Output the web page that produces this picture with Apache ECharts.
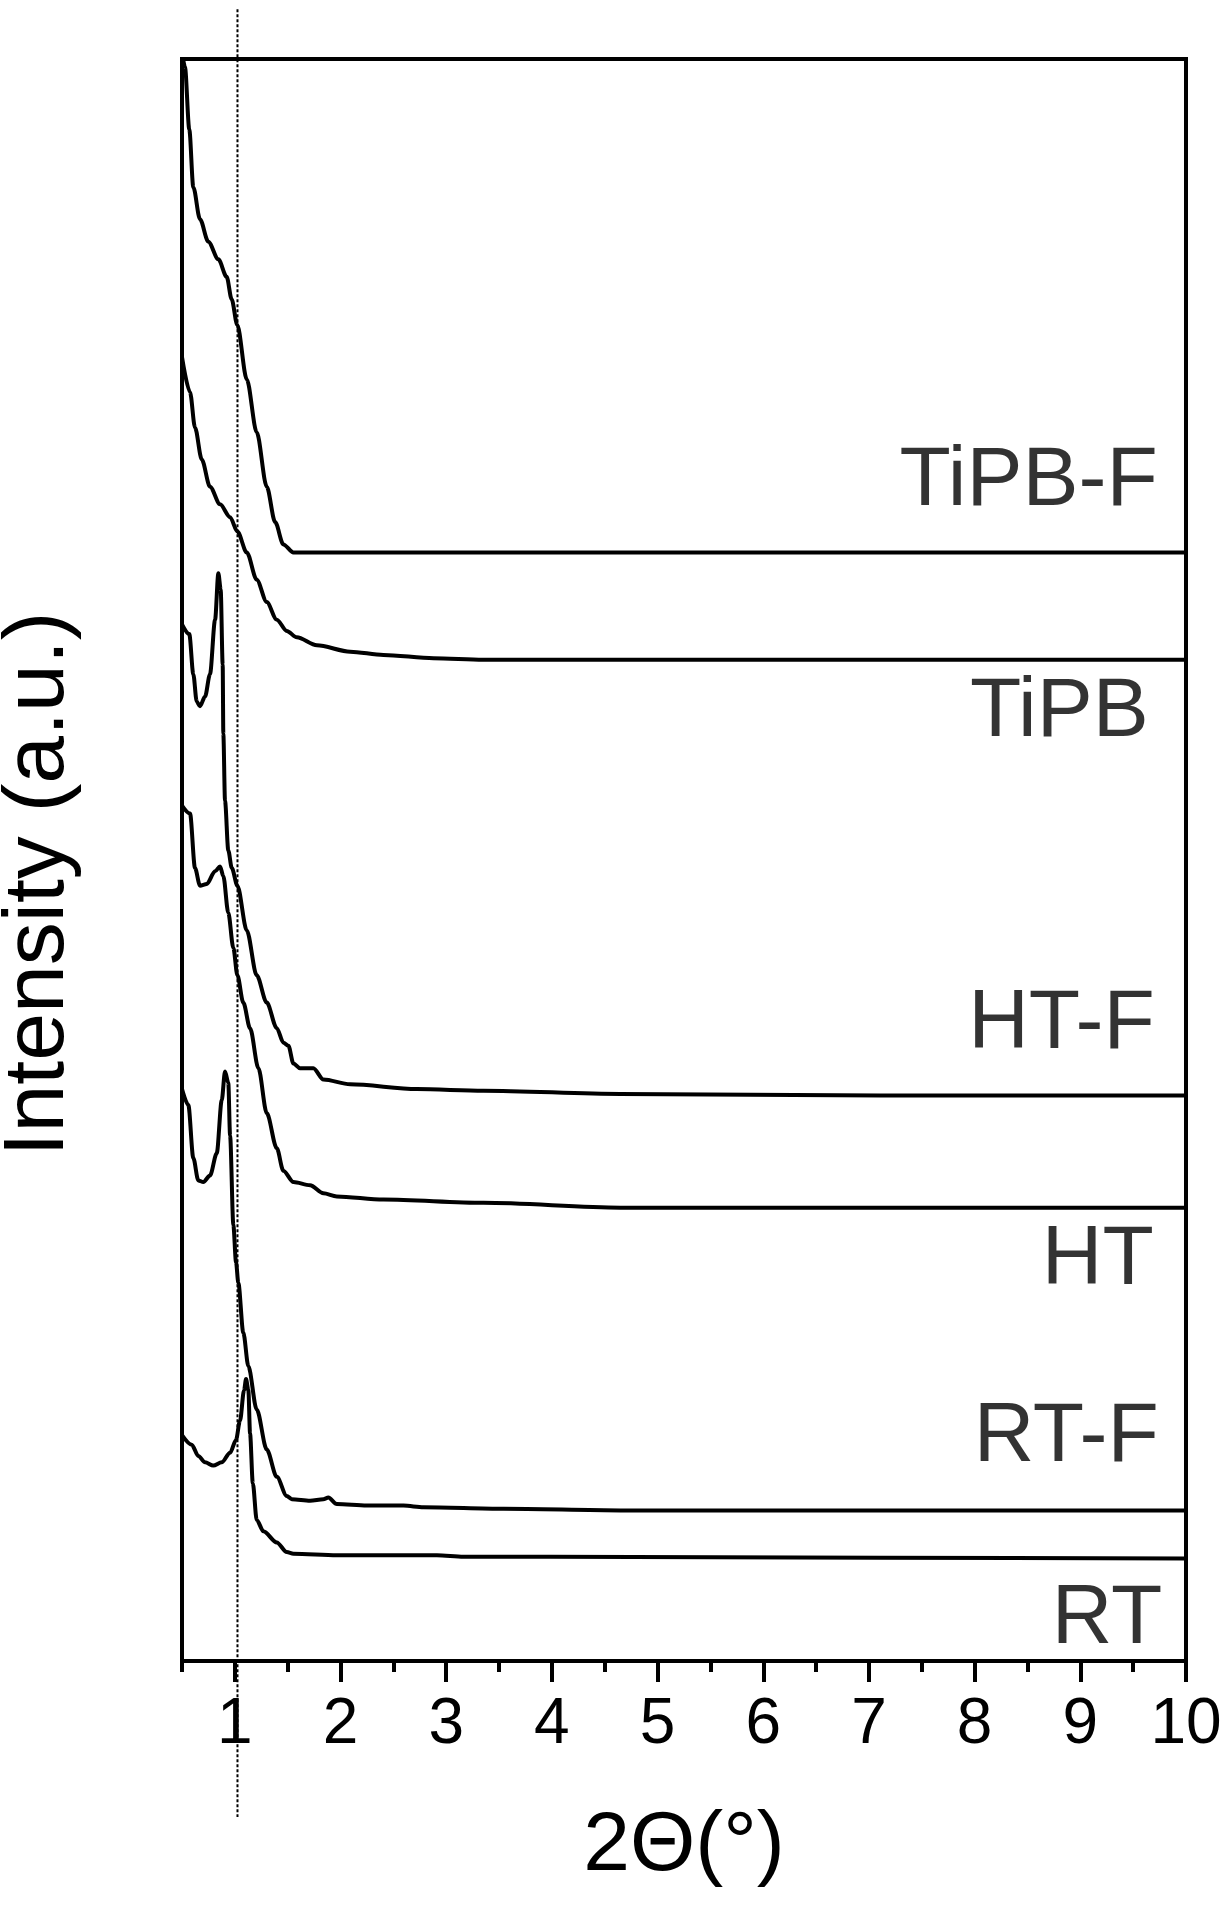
<!DOCTYPE html>
<html>
<head>
<meta charset="utf-8">
<script src="https://cdn.jsdelivr.net/npm/echarts@6/dist/echarts.min.js"></script>
<style>
html,body{margin:0;padding:0;background:#fff;}
#chart{width:1232px;height:1906px;}
</style>
</head>
<body>
<div id="chart"></div>
<script>
// ---- data (x = 2Θ in degrees, y = offset intensity, arbitrary units 0..100) ----
const tipbfX = [0.5, 0.528, 0.569, 0.607, 0.670, 0.749, 0.844, 0.923, 0.970, 1.023, 1.113, 1.207, 1.302, 1.381, 1.459, 1.554, 2.5, 4, 6, 8, 10];
const tipbfY = [100.5, 99.5, 95.6, 92.0, 90.0, 88.6, 87.5, 86.4, 85.0, 83.4, 80.0, 76.7, 73.3, 71.1, 69.7, 69.2, 69.2, 69.2, 69.2, 69.2, 69.2];

const tipbX = [0.5, 0.576, 0.623, 0.687, 0.765, 0.860, 0.955, 1.024, 1.113, 1.207, 1.302, 1.397, 1.491, 1.586, 1.776, 2.091, 2.406, 2.880, 3.350, 3.985, 6, 8, 10];
const tipbY = [81.4, 79.2, 77.0, 75.0, 73.3, 72.2, 71.4, 70.5, 69.2, 67.5, 66.1, 65.0, 64.3, 63.9, 63.4, 63.0, 62.8, 62.6, 62.5, 62.5, 62.5, 62.5, 62.5];

const htfX = [0.5, 0.569, 0.607, 0.639, 0.670, 0.718, 0.765, 0.813, 0.844, 0.866, 0.885, 0.891, 0.907, 0.938, 0.971, 1.024, 1.113, 1.207, 1.302, 1.397, 1.459, 1.507, 1.554, 1.617, 1.743, 1.838, 2.091, 2.722, 3.353, 4.648, 7.110, 10];
const htfY = [64.7, 64.1, 61.6, 59.9, 59.6, 60.2, 61.6, 65.0, 67.9, 66.9, 62.2, 57.9, 53.7, 50.6, 49.5, 48.4, 45.6, 42.8, 41.1, 39.5, 38.6, 38.4, 37.3, 37.0, 37.0, 36.3, 36.0, 35.7, 35.6, 35.4, 35.3, 35.3];

const htX = [0.5, 0.576, 0.623, 0.670, 0.734, 0.813, 0.860, 0.891, 0.938, 0.986, 1.024, 1.080, 1.144, 1.223, 1.302, 1.397, 1.459, 1.554, 1.712, 1.838, 1.965, 2.406, 3.353, 4.648, 7.110, 10];
const htY = [53.4, 52.9, 49.5, 48.4, 48.5, 49.3, 49.6, 49.0, 46.7, 44.5, 42.8, 41.1, 39.5, 37.0, 34.2, 32.0, 30.6, 29.9, 29.7, 29.2, 29.0, 28.8, 28.6, 28.3, 28.3, 28.3];

const rtfX = [0.5, 0.560, 0.607, 0.654, 0.702, 0.765, 0.829, 0.876, 0.907, 0.938, 0.955, 0.986, 1.011, 1.033, 1.080, 1.128, 1.207, 1.302, 1.397, 1.491, 1.539, 1.712, 1.838, 1.885, 1.965, 2.249, 2.596, 2.785, 3.543, 4.648, 7.110, 10];
const rtfY = [35.7, 34.7, 31.4, 30.0, 29.9, 30.3, 31.7, 35.0, 36.8, 36.1, 32.8, 27.2, 24.9, 23.6, 20.5, 18.4, 15.7, 13.2, 11.5, 10.3, 10.1, 10.0, 10.1, 10.2, 9.8, 9.7, 9.7, 9.6, 9.5, 9.4, 9.4, 9.4];

const rtX = [0.5, 0.592, 0.654, 0.718, 0.796, 0.876, 0.955, 1.011, 1.049, 1.087, 1.106, 1.128, 1.144, 1.170, 1.207, 1.270, 1.397, 1.491, 1.554, 1.965, 2.912, 3.164, 3.985, 7.110, 10];
const rtY = [14.1, 13.5, 12.8, 12.4, 12.2, 12.4, 13.0, 13.8, 15.0, 16.9, 17.6, 16.9, 14.2, 11.1, 8.8, 8.1, 7.4, 6.8, 6.7, 6.6, 6.6, 6.5, 6.5, 6.45, 6.4];

// sample labels (text, x and y position in data units)
const sampleNames = ['TiPB-F', 'TiPB', 'HT-F', 'HT', 'RT-F', 'RT'];
const sampleLabelX = [9.733, 9.648, 9.705, 9.695, 9.742, 9.776];
const sampleLabelY = [73.6, 59.2, 39.7, 25.0, 13.9, 2.6];

// axis ticks
const majorTicks = [1, 2, 3, 4, 5, 6, 7, 8, 9, 10];
const minorTicks = [0.5, 1.5, 2.5, 3.5, 4.5, 5.5, 6.5, 7.5, 8.5, 9.5];
const xMin = 0.5, xMax = 10, yMin = 0, yMax = 100;

// dotted reference line (x position, and its vertical extent in data units)
const refLineX = 1.025;
const refLineY = [103.1, -9.74];

const FONT = "'Liberation Sans', Arial, Helvetica, sans-serif";

function pairs(xs, ys) { return xs.map((x, i) => [x, ys[i]]); }

const curveSeries = [
  ['TiPB-F', tipbfX, tipbfY],
  ['TiPB', tipbX, tipbY],
  ['HT-F', htfX, htfY],
  ['HT', htX, htY],
  ['RT-F', rtfX, rtfY],
  ['RT', rtX, rtY]
].map(([n, xs, ys]) => ({
  name: n,
  type: 'line',
  xAxisIndex: 0,
  yAxisIndex: 0,
  data: pairs(xs, ys),
  showSymbol: false,
  symbol: 'none',
  smooth: 0.3,
  smoothMonotone: 'x',
  clip: true,
  silent: true,
  lineStyle: { color: '#000', width: 4 },
  z: 3
}));

const labelSeries = {
  type: 'scatter',
  xAxisIndex: 0,
  yAxisIndex: 0,
  symbolSize: 0,
  silent: true,
  z: 5,
  data: sampleNames.map((n, i) => ({ value: [sampleLabelX[i], sampleLabelY[i]], name: n })),
  label: {
    show: true,
    position: 'left',
    distance: 0,
    formatter: p => p.name,
    color: '#000',
    fontSize: 84,
    fontFamily: FONT
  }
};

const chart = echarts.init(document.getElementById('chart'), null, { renderer: 'canvas' });

chart.setOption({
  backgroundColor: '#fff',
  animation: false,
  grid: {
    left: 182, right: 46, top: 59, bottom: 245,
    show: true, borderColor: '#000', borderWidth: 4,
    containLabel: false, outerBoundsMode: 'none'
  },
  xAxis: [
    {
      type: 'value', min: xMin, max: xMax,
      axisLine: { show: true, onZero: false, lineStyle: { color: '#000', width: 4 } },
      axisTick: { show: true, customValues: majorTicks, length: 21, lineStyle: { color: '#000', width: 4 } },
      axisLabel: { show: true, customValues: majorTicks, margin: 32, fontSize: 64, color: '#000', fontFamily: FONT },
      splitLine: { show: false },
      name: '2Θ(°)', nameLocation: 'middle', nameGap: 144,
      nameTextStyle: { fontSize: 84, color: '#000', fontFamily: FONT }
    },
    {
      type: 'value', min: xMin, max: xMax, position: 'bottom',
      axisLine: { show: false, onZero: false },
      axisTick: { show: true, customValues: minorTicks, length: 11, lineStyle: { color: '#000', width: 4 } },
      axisLabel: { show: false },
      splitLine: { show: false }
    }
  ],
  yAxis: {
    type: 'value', min: yMin, max: yMax,
    axisLine: { show: true, onZero: false, lineStyle: { color: '#000', width: 4 } },
    axisTick: { show: false },
    axisLabel: { show: false },
    splitLine: { show: false },
    name: 'Intensity (a.u.)', nameLocation: 'middle', nameRotate: 90, nameGap: 100,
    nameTextStyle: { fontSize: 86, color: '#000', fontFamily: FONT, padding: [0, 48, 0, 0] }
  },
  series: curveSeries.concat([labelSeries])
});

// dotted vertical reference line, placed through the axes' own scales
const lx = chart.convertToPixel({ xAxisIndex: 0 }, refLineX);
const ly1 = chart.convertToPixel({ yAxisIndex: 0 }, refLineY[0]);
const ly2 = chart.convertToPixel({ yAxisIndex: 0 }, refLineY[1]);
chart.setOption({
  graphic: [{
    type: 'line',
    silent: true,
    z: 10,
    shape: { x1: lx, y1: ly1, x2: lx, y2: ly2 },
    style: { stroke: '#000', lineWidth: 2, lineDash: [3, 2] }
  }]
});
</script>
</body>
</html>
